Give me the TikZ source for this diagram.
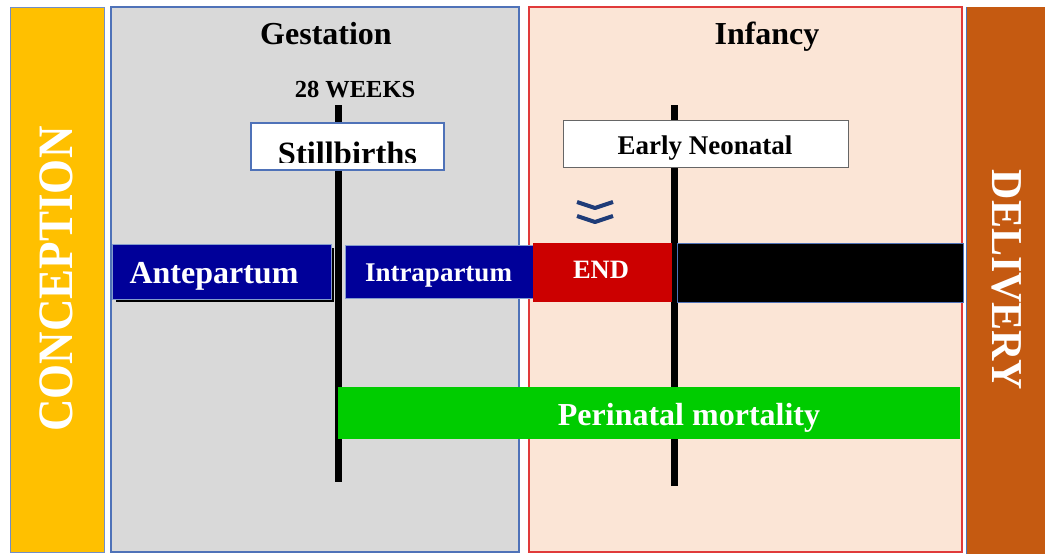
\documentclass[tikz,border=0pt]{standalone}
\usepackage{fontspec}
\setmainfont{Liberation Serif}
\definecolor{cyellow}{HTML}{FFC000}
\definecolor{cgray}{HTML}{D9D9D9}
\definecolor{cpeach}{HTML}{FBE5D6}
\definecolor{corange}{HTML}{C55A11}
\definecolor{cborder}{HTML}{4F72B8}
\definecolor{cred}{HTML}{E03A3A}
\definecolor{cnavy}{HTML}{000099}
\definecolor{cend}{HTML}{CC0000}
\definecolor{cgreen}{HTML}{00CC00}
\definecolor{cchev}{HTML}{1F3C78}
\begin{document}
\begin{tikzpicture}[x=1pt,y=-1pt,
  panel/.style={inner sep=0pt, outer sep=0pt, anchor=north west},
  bar/.style={inner sep=0pt, outer sep=0pt, anchor=north west},
  lbl/.style={inner sep=0pt, anchor=base},
  tick/.style={line width=7pt, black},
  fs/.style={font=\fontsize{#1}{#1}\selectfont\bfseries}
]
\useasboundingbox[fill=white] (0,0) rectangle (1045,554);
% panels
\node[panel, fill=cyellow, draw=cborder!80, line width=1pt, minimum width=94pt, minimum height=545pt] (conc) at (10,7) {};
\node[panel, fill=cgray, draw=cborder, line width=1.5pt, minimum width=408pt, minimum height=545pt] (gest) at (111,7) {};
\node[panel, fill=cpeach, draw=cred, line width=1.5pt, minimum width=433pt, minimum height=545pt] (inf) at (529,7) {};
\node[panel, fill=corange, minimum width=79pt, minimum height=547pt] (deliv) at (966,7) {};
\draw[cborder, line width=1pt] (deliv.north west) -- (deliv.south west);
% side labels
\node[inner sep=0pt, rotate=90, text=white, yscale=1.1, fs=45] (conct) at (56,279) {CONCEPTION};
\node[inner sep=0pt, rotate=-90, text=white, yscale=1.05, fs=42] (delivt) at (1007,280) {DELIVERY};
% headings
\node[lbl, fs=32] (gesth) at (326,45) {Gestation};
\node[lbl, fs=32] (infh) at (767,45) {Infancy};
\node[lbl, fs=24.5] (wk) at (355,97) {28 WEEKS};
% timeline ticks
\coordinate (l1t) at (338,105);
\coordinate (l1b) at (338,482);
\coordinate (l2t) at (674,105);
\coordinate (l2b) at (674,486);
\draw[tick] (l1t) -- (l1b);
\draw[tick] (l2t) -- (l2b);
% label boxes
\node[panel, fill=white, draw=cborder, line width=1.5pt, minimum width=193pt, minimum height=47pt] (still) at (251,123) {};
\begin{scope}
\clip (252,124) rectangle (443,162);
\node[lbl, fs=32.5] (stillt) at (347.5,164) {Stillbirths};
\end{scope}
\node[panel, fill=white, draw=black!60, line width=1pt, minimum width=285pt, minimum height=47pt] (early) at (563,120) {};
\node[lbl, fs=27] (earlyt) at (705,154) {Early Neonatal};
% chevrons
\draw[cchev, line width=4pt, line join=round] (577,202) -- (595,208) -- (613,202);
\draw[cchev, line width=4pt, line join=round] (577,216) -- (595,222) -- (613,216);
% bars
\fill[black] (116,248) rectangle (334,302);
\node[bar, fill=cnavy, draw=cborder!70, line width=1pt, minimum width=219pt, minimum height=55pt] (ante) at (112,244) {};
\node[lbl, fs=32, text=white] (antet) at (214,283) {Antepartum};
\node[bar, fill=cnavy, draw=cborder!70, line width=1pt, minimum width=188pt, minimum height=53pt] (intra) at (345,245) {};
\node[lbl, fs=27, text=white] (intrat) at (438.5,281) {Intrapartum};
\node[bar, fill=cend, minimum width=139pt, minimum height=59pt] (endb) at (533,243) {};
\node[lbl, fs=26.5, text=white] (endt) at (601,278) {END};
\node[bar, fill=black, draw=cborder, line width=1pt, minimum width=286pt, minimum height=59pt] (blk) at (677,243) {};
\node[bar, fill=cgreen, minimum width=622pt, minimum height=52pt] (peri) at (338,387) {};
\node[lbl, fs=32, text=white] (perit) at (689,425) {Perinatal mortality};
\end{tikzpicture}
\end{document}
